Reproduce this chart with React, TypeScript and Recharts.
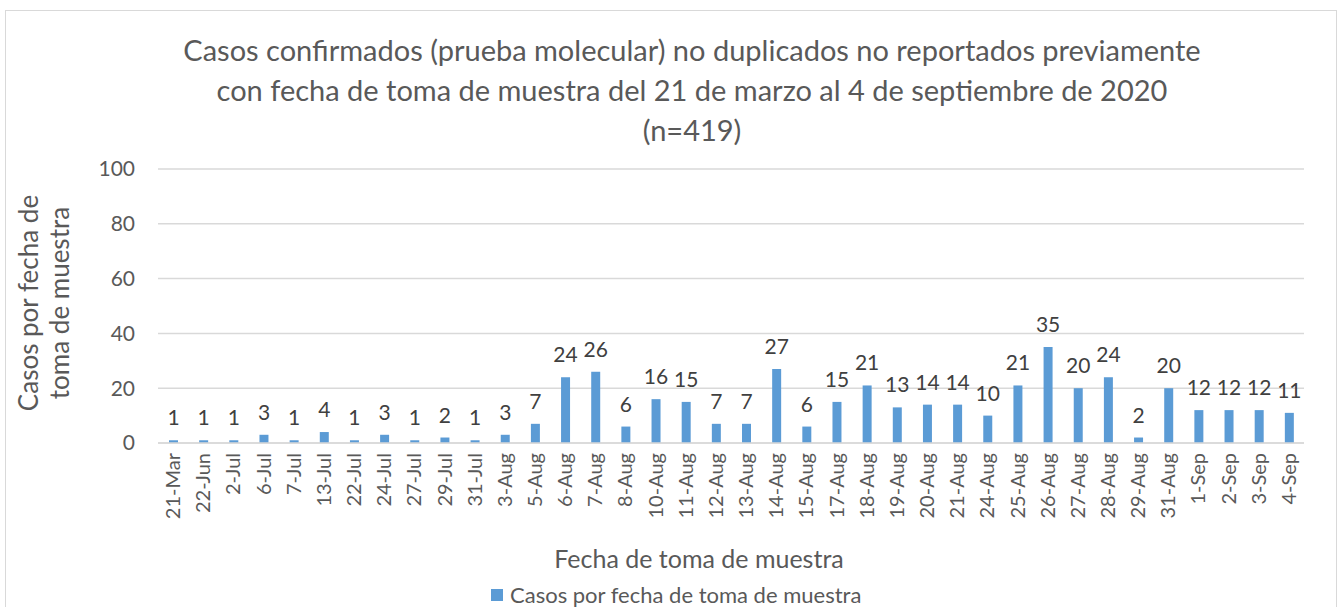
import { BarChart, Bar, XAxis, YAxis, CartesianGrid, LabelList } from "recharts";

// ── data ──
const fechas = [
  "21-Mar", "22-Jun", "2-Jul", "6-Jul", "7-Jul", "13-Jul", "22-Jul", "24-Jul",
  "27-Jul", "29-Jul", "31-Jul", "3-Aug", "5-Aug", "6-Aug", "7-Aug", "8-Aug",
  "10-Aug", "11-Aug", "12-Aug", "13-Aug", "14-Aug", "15-Aug", "17-Aug", "18-Aug",
  "19-Aug", "20-Aug", "21-Aug", "24-Aug", "25-Aug", "26-Aug", "27-Aug", "28-Aug",
  "29-Aug", "31-Aug", "1-Sep", "2-Sep", "3-Sep", "4-Sep",
];
const casos = [
  1, 1, 1, 3, 1, 4, 1, 3, 1, 2, 1, 3, 7, 24, 26, 6, 16, 15, 7, 7, 27, 6, 15, 21,
  13, 14, 14, 10, 21, 35, 20, 24, 2, 20, 12, 12, 12, 11,
];
const yTicks = [0, 20, 40, 60, 80, 100];

const data = fechas.map((f, i) => ({ fecha: f, casos: casos[i] }));

const FONT = "Lato, 'Open Sans', sans-serif";
const GREY = "#595959";

// rotated category label, reads bottom-to-top
const FechaTick = (props: any) => {
  const { x, y, payload } = props;
  return (
    <text
      transform={`translate(${x},${y + 2}) rotate(-90)`}
      textAnchor="end"
      dy="0.35em"
      fill={GREY}
      fontSize={20}
      fontFamily={FONT}
    >
      {payload.value}
    </text>
  );
};

export default function App() {
  return (
    <div style={{ position: "absolute", left: 0, top: 0, width: 1339, height: 607, background: "#fff", overflow: "hidden", fontFamily: FONT }}>
      {/* chart frame */}
      <div style={{ position: "absolute", left: 5, top: 10, width: 1330, height: 620, border: "1px solid #d9d9d9" }} />

      {/* title */}
      <div
        style={{
          position: "absolute", left: 92, top: 30, width: 1200, textAlign: "center",
          fontSize: 29, lineHeight: "40px", color: GREY,
        }}
      >
        Casos confirmados (prueba molecular) no duplicados no reportados previamente
        <br />
        con fecha de toma de muestra del 21 de marzo al 4 de septiembre de 2020
        <br />
        (n=419)
      </div>

      <div style={{ position: "absolute", left: 0, top: 0 }}>
        <BarChart width={1339} height={607} data={data} margin={{ top: 169, right: 35, left: 98, bottom: 64 }}>
          <CartesianGrid vertical={false} stroke="#d9d9d9" strokeWidth={1.5} />
          <XAxis
            dataKey="fecha"
            interval={0}
            height={100}
            tickLine={false}
            axisLine={{ stroke: "#d9d9d9", strokeWidth: 1.5 }}
            tick={<FechaTick />}
          />
          <YAxis
            domain={[0, 100]}
            ticks={yTicks}
            width={60}
            axisLine={false}
            tickLine={false}
            tickMargin={17}
            tick={{ fill: GREY, fontSize: 21, fontFamily: FONT }}
          />
          <Bar dataKey="casos" fill="#5b9bd5" barSize={9} isAnimationActive={false}>
            <LabelList dataKey="casos" position="top" offset={15} fill="#404040" fontSize={21} fontFamily={FONT} />
          </Bar>
        </BarChart>
      </div>

      {/* y axis title */}
      <div
        style={{
          position: "absolute", left: 44 - 160, top: 303 - 31, width: 320, height: 62,
          transform: "rotate(-90deg)", textAlign: "center", fontSize: 26, lineHeight: "31px", color: GREY,
        }}
      >
        Casos por fecha de
        <br />
        toma de muestra
      </div>

      {/* x axis title */}
      <div style={{ position: "absolute", left: 499, top: 542, width: 400, textAlign: "center", fontSize: 25, lineHeight: "32px", color: GREY }}>
        Fecha de toma de muestra
      </div>

      {/* legend */}
      <div style={{ position: "absolute", left: 491, top: 582, display: "flex", alignItems: "center", fontSize: 22, lineHeight: "26px", color: GREY }}>
        <span style={{ display: "inline-block", width: 12, height: 12, background: "#5b9bd5", marginRight: 7 }} />
        Casos por fecha de toma de muestra
      </div>
    </div>
  );
}
